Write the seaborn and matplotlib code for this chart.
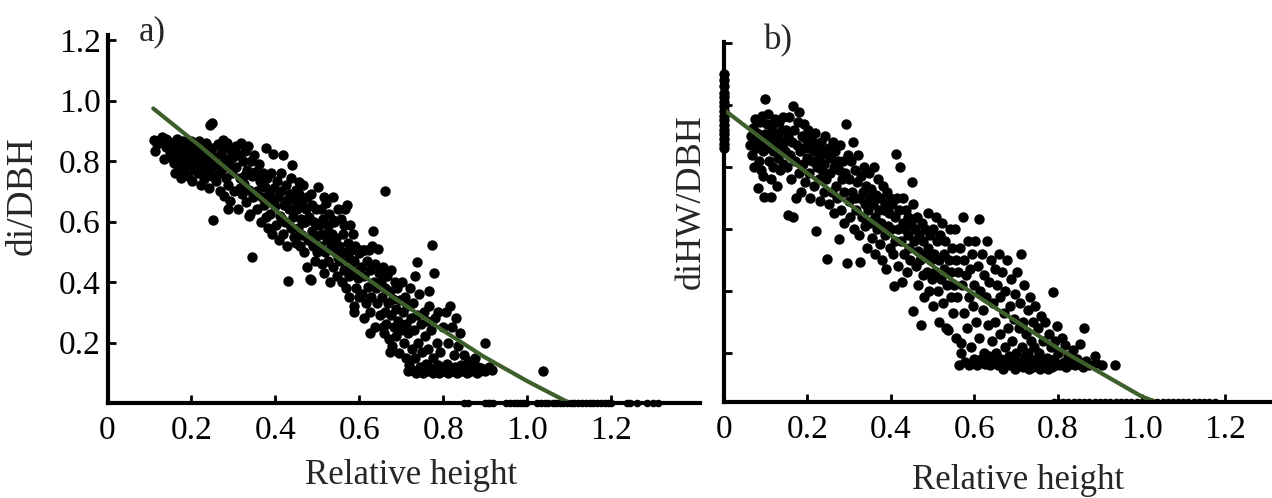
import numpy as np
import pandas as pd
import seaborn as sns
import matplotlib.pyplot as plt

# ---- panel a) di/DBH vs relative height ----
a_x = [0.110, 0.112, 0.118, 0.125, 0.130, 0.135, 0.140, 0.145, 0.148, 0.150, 0.152, 0.140,
       0.155, 0.158, 0.160, 0.162, 0.165, 0.168, 0.170, 0.172, 0.175, 0.178, 0.180, 0.182, 0.185, 0.188, 0.190, 0.192, 0.195, 0.197, 0.199, 0.200,
       0.202, 0.205, 0.207, 0.210, 0.212, 0.215, 0.218, 0.220, 0.222, 0.225, 0.227, 0.230, 0.232, 0.235, 0.237, 0.240, 0.242, 0.244, 0.248, 0.246, 0.249, 0.250,
       0.252, 0.255, 0.258, 0.260, 0.262, 0.265, 0.268, 0.270, 0.272, 0.275, 0.278, 0.280, 0.282, 0.285, 0.287, 0.290, 0.292, 0.295, 0.297, 0.299, 0.288, 0.276,
       0.302, 0.305, 0.307, 0.310, 0.312, 0.315, 0.318, 0.320, 0.322, 0.325, 0.327, 0.330, 0.332, 0.335, 0.337, 0.340, 0.342, 0.344, 0.345, 0.347, 0.349, 0.338, 0.328, 0.316,
       0.352, 0.355, 0.357, 0.360, 0.362, 0.365, 0.367, 0.370, 0.372, 0.375, 0.377, 0.380, 0.382, 0.385, 0.387, 0.390, 0.392, 0.395, 0.397, 0.399, 0.378, 0.368, 0.388, 0.358,
       0.402, 0.404, 0.406, 0.408, 0.410, 0.412, 0.414, 0.417, 0.419, 0.421, 0.423, 0.425, 0.427, 0.430, 0.432, 0.434, 0.436, 0.438, 0.440, 0.442, 0.444, 0.446, 0.448, 0.449, 0.428, 0.415,
       0.452, 0.454, 0.456, 0.458, 0.460, 0.462, 0.464, 0.466, 0.468, 0.470, 0.472, 0.474, 0.476, 0.478, 0.480, 0.482, 0.484, 0.486, 0.488, 0.490, 0.492, 0.494, 0.496, 0.498, 0.499, 0.485, 0.465, 0.457,
       0.502, 0.504, 0.506, 0.508, 0.510, 0.512, 0.514, 0.516, 0.518, 0.520, 0.522, 0.524, 0.526, 0.528, 0.530, 0.532, 0.534, 0.536, 0.538, 0.540, 0.542, 0.544, 0.546, 0.548, 0.549, 0.527, 0.515, 0.537,
       0.552, 0.554, 0.556, 0.558, 0.560, 0.562, 0.564, 0.566, 0.568, 0.570, 0.572, 0.574, 0.576, 0.578, 0.580, 0.582, 0.584, 0.586, 0.588, 0.590, 0.592, 0.594, 0.596, 0.598, 0.599, 0.575, 0.563, 0.587,
       0.602, 0.604, 0.606, 0.608, 0.610, 0.612, 0.614, 0.616, 0.618, 0.620, 0.622, 0.624, 0.626, 0.628, 0.630, 0.632, 0.634, 0.636, 0.638, 0.640, 0.642, 0.644, 0.646, 0.648, 0.661, 0.625,
       0.652, 0.654, 0.656, 0.658, 0.660, 0.662, 0.664, 0.666, 0.668, 0.670, 0.672, 0.674, 0.676, 0.678, 0.680, 0.682, 0.684, 0.686, 0.688, 0.690, 0.692, 0.694, 0.696, 0.698, 0.672, 0.655,
       0.702, 0.704, 0.706, 0.708, 0.710, 0.712, 0.714, 0.716, 0.718, 0.720, 0.722, 0.724, 0.726, 0.728, 0.730, 0.732, 0.734, 0.736, 0.738, 0.740, 0.742, 0.744, 0.746, 0.748, 0.733, 0.715,
       0.752, 0.754, 0.756, 0.758, 0.760, 0.762, 0.764, 0.766, 0.768, 0.770, 0.772, 0.774, 0.776, 0.778, 0.780, 0.782, 0.784, 0.786, 0.788, 0.790, 0.792, 0.795, 0.798, 0.765,
       0.802, 0.805, 0.808, 0.810, 0.812, 0.815, 0.818, 0.820, 0.822, 0.825, 0.828, 0.830, 0.832, 0.835, 0.838, 0.840, 0.843, 0.845, 0.848, 0.850,
       0.853, 0.856, 0.860, 0.863, 0.866, 0.870, 0.873, 0.876, 0.880, 0.883, 0.887, 0.890, 0.899, 0.900, 0.908, 0.915, 1.038]
a_y = [0.870, 0.835, 0.855, 0.862, 0.880, 0.806, 0.848, 0.868, 0.830, 0.815, 0.857, 0.873,
       0.842, 0.795, 0.760, 0.825, 0.872, 0.850, 0.780, 0.810, 0.745, 0.838, 0.866, 0.770, 0.800, 0.855, 0.823, 0.752, 0.790, 0.845, 0.868, 0.815,
       0.735, 0.775, 0.850, 0.800, 0.830, 0.760, 0.866, 0.785, 0.720, 0.815, 0.845, 0.742, 0.770, 0.860, 0.800, 0.830, 0.710, 0.918, 0.925, 0.780, 0.752, 0.842,
       0.605, 0.815, 0.735, 0.790, 0.855, 0.760, 0.700, 0.828, 0.775, 0.845, 0.685, 0.808, 0.745, 0.860, 0.720, 0.790, 0.668, 0.835, 0.760, 0.815, 0.640, 0.870,
       0.700, 0.850, 0.780, 0.640, 0.820, 0.745, 0.860, 0.690, 0.800, 0.725, 0.835, 0.665, 0.770, 0.850, 0.705, 0.625, 0.800, 0.484, 0.750, 0.680, 0.820, 0.620, 0.755, 0.710,
       0.765, 0.700, 0.640, 0.790, 0.735, 0.600, 0.680, 0.760, 0.655, 0.715, 0.842, 0.745, 0.580, 0.690, 0.625, 0.760, 0.560, 0.825, 0.710, 0.650, 0.615, 0.722, 0.670, 0.752,
       0.590, 0.735, 0.680, 0.540, 0.620, 0.700, 0.760, 0.820, 0.560, 0.655, 0.598, 0.720, 0.520, 0.403, 0.640, 0.690, 0.580, 0.745, 0.787, 0.615, 0.550, 0.668, 0.705, 0.530, 0.672, 0.610,
       0.640, 0.580, 0.690, 0.520, 0.610, 0.660, 0.555, 0.720, 0.500, 0.598, 0.640, 0.450, 0.680, 0.540, 0.615, 0.409, 0.407, 0.570, 0.655, 0.520, 0.600, 0.470, 0.640, 0.552, 0.500, 0.690, 0.600, 0.730,
       0.713, 0.590, 0.520, 0.640, 0.460, 0.560, 0.610, 0.430, 0.500, 0.660, 0.540, 0.585, 0.470, 0.625, 0.400, 0.520, 0.560, 0.680, 0.450, 0.600, 0.500, 0.545, 0.420, 0.640, 0.480, 0.560, 0.680, 0.605,
       0.520, 0.470, 0.610, 0.400, 0.560, 0.500, 0.440, 0.640, 0.380, 0.655, 0.530, 0.480, 0.350, 0.590, 0.505, 0.440, 0.560, 0.320, 0.470, 0.520, 0.380, 0.505, 0.415, 0.495, 0.350, 0.420, 0.590, 0.300,
       0.505, 0.450, 0.360, 0.505, 0.280, 0.420, 0.505, 0.330, 0.470, 0.385, 0.505, 0.300, 0.440, 0.350, 0.520, 0.570, 0.400, 0.460, 0.250, 0.380, 0.330, 0.510, 0.430, 0.290, 0.702, 0.230,
       0.400, 0.350, 0.450, 0.230, 0.300, 0.380, 0.260, 0.420, 0.330, 0.210, 0.370, 0.290, 0.440, 0.190, 0.345, 0.250, 0.400, 0.310, 0.220, 0.380, 0.270, 0.165, 0.340, 0.240, 0.170, 0.250,
       0.400, 0.300, 0.200, 0.350, 0.260, 0.150, 0.320, 0.230, 0.125, 0.380, 0.280, 0.180, 0.110, 0.330, 0.240, 0.150, 0.100, 0.467, 0.290, 0.200, 0.360, 0.120, 0.260, 0.170, 0.420, 0.105,
       0.100, 0.300, 0.220, 0.130, 0.270, 0.105, 0.180, 0.320, 0.115, 0.240, 0.522, 0.100, 0.150, 0.429, 0.280, 0.110, 0.200, 0.125, 0.300, 0.100, 0.170, 0.115, 0.250, 0.370,
       0.105, 0.300, 0.130, 0.200, 0.100, 0.320, 0.115, 0.250, 0.105, 0.160, 0.120, 0.280, 0.100, 0.190, 0.110, 0.230, 0.125, 0.105, 0.160, 0.110,
       0.125, 0.100, 0.140, 0.115, 0.105, 0.130, 0.110, 0.150, 0.100, 0.120, 0.105, 0.115, 0.197, 0.105, 0.120, 0.110, 0.107]
# points lying on the x axis (di/DBH = 0)
a_axis_x = [0.848, 0.858, 0.899, 0.905, 0.912, 0.918, 0.950, 0.958, 0.967, 0.975, 0.983, 0.990, 0.997,
            1.023, 1.032, 1.041, 1.050, 1.060, 1.068, 1.077, 1.085, 1.094, 1.103, 1.112, 1.120, 1.130,
            1.140, 1.148, 1.157, 1.166, 1.175, 1.184, 1.192, 1.199, 1.236, 1.245, 1.262, 1.285, 1.298, 1.310]
a_floor = 0.0
# fitted taper curve
a_fit_x = [0.109, 0.22, 0.458, 0.68, 0.79, 0.894, 1.0, 1.10]
a_fit_y = [0.974, 0.85, 0.57, 0.35, 0.248, 0.155, 0.072, 0.0]

# ---- panel b) diHW/DBH vs relative height ----
b_x = [0.062, 0.065, 0.068, 0.070, 0.072, 0.074, 0.076, 0.078, 0.080, 0.082, 0.084, 0.086, 0.088, 0.090, 0.092, 0.094, 0.096, 0.098, 0.099, 0.095,
       0.102, 0.104, 0.106, 0.108, 0.110, 0.112, 0.113, 0.115, 0.117, 0.119, 0.121, 0.123, 0.125, 0.127, 0.129, 0.131, 0.133, 0.135, 0.137, 0.139, 0.141, 0.143, 0.145, 0.147, 0.149,
       0.151, 0.153, 0.155, 0.157, 0.159, 0.161, 0.163, 0.165, 0.167, 0.169, 0.171, 0.173, 0.175, 0.177, 0.179, 0.181, 0.183, 0.185, 0.187, 0.189, 0.191, 0.193, 0.195, 0.197, 0.199,
       0.201, 0.203, 0.205, 0.207, 0.209, 0.211, 0.213, 0.215, 0.217, 0.219, 0.221, 0.223, 0.225, 0.227, 0.229, 0.231, 0.233, 0.235, 0.237, 0.239, 0.241, 0.243, 0.245, 0.247, 0.249,
       0.251, 0.253, 0.255, 0.257, 0.259, 0.261, 0.263, 0.265, 0.267, 0.269, 0.271, 0.273, 0.275, 0.277, 0.279, 0.281, 0.283, 0.285, 0.287, 0.289, 0.291, 0.293, 0.295, 0.297, 0.299,
       0.301, 0.303, 0.305, 0.307, 0.309, 0.311, 0.313, 0.315, 0.317, 0.319, 0.321, 0.323, 0.325, 0.327, 0.329, 0.331, 0.333, 0.335, 0.337, 0.339, 0.341, 0.343, 0.345, 0.347, 0.349,
       0.351, 0.353, 0.355, 0.357, 0.359, 0.361, 0.363, 0.365, 0.367, 0.369, 0.371, 0.373, 0.375, 0.377, 0.379, 0.381, 0.383, 0.385, 0.387, 0.389, 0.391, 0.393, 0.395, 0.397, 0.399,
       0.401, 0.403, 0.405, 0.407, 0.409, 0.411, 0.412, 0.414, 0.416, 0.418, 0.420, 0.422, 0.424, 0.426, 0.428, 0.430, 0.432, 0.434, 0.436, 0.438, 0.440, 0.442, 0.444, 0.446, 0.448,
       0.450, 0.452, 0.454, 0.456, 0.458, 0.460, 0.462, 0.464, 0.466, 0.468, 0.470, 0.472, 0.474, 0.476, 0.478, 0.480, 0.482, 0.484, 0.486, 0.488, 0.490, 0.492, 0.494, 0.496, 0.498,
       0.500, 0.502, 0.504, 0.506, 0.508, 0.510, 0.512, 0.514, 0.516, 0.518, 0.520, 0.522, 0.524, 0.526, 0.528, 0.530, 0.532, 0.534, 0.537, 0.539, 0.541, 0.543, 0.545, 0.547, 0.549,
       0.551, 0.553, 0.555, 0.557, 0.559, 0.561, 0.563, 0.565, 0.567, 0.568, 0.570, 0.572, 0.574, 0.576, 0.578, 0.580, 0.582, 0.584, 0.586, 0.588, 0.590, 0.592, 0.594, 0.596, 0.598,
       0.600, 0.602, 0.604, 0.606, 0.608, 0.610, 0.612, 0.614, 0.616, 0.618, 0.620, 0.622, 0.624, 0.626, 0.628, 0.630, 0.632, 0.634, 0.636, 0.638, 0.640, 0.642, 0.644, 0.646, 0.648,
       0.650, 0.652, 0.654, 0.656, 0.658, 0.660, 0.662, 0.664, 0.666, 0.668, 0.670, 0.672, 0.674, 0.676, 0.678, 0.680, 0.682, 0.684, 0.686, 0.688, 0.690, 0.692, 0.694, 0.696, 0.698,
       0.700, 0.702, 0.704, 0.706, 0.708, 0.710, 0.711, 0.713, 0.715, 0.717, 0.719, 0.721, 0.723, 0.725, 0.727, 0.729, 0.731, 0.733, 0.735, 0.737, 0.739, 0.741, 0.743, 0.745, 0.747,
       0.750, 0.752, 0.755, 0.758, 0.760, 0.763, 0.765, 0.768, 0.770, 0.773, 0.775, 0.778, 0.780, 0.783, 0.785, 0.788, 0.790, 0.793, 0.795, 0.798,
       0.800, 0.805, 0.810, 0.815, 0.817, 0.820, 0.825, 0.830, 0.835, 0.840, 0.845, 0.852, 0.859, 0.862, 0.868, 0.875, 0.888, 0.892, 0.905, 0.936]
b_y = [0.870, 0.900, 0.840, 0.925, 0.800, 0.880, 0.955, 0.860, 0.910, 0.731, 0.820, 0.945, 0.880, 0.790, 0.965, 0.850, 0.704, 0.905, 1.018, 0.770,
       0.860, 0.940, 0.971, 0.820, 0.895, 0.760, 0.704, 0.930, 0.850, 0.800, 0.910, 0.955, 0.870, 0.740, 0.830, 0.900, 0.945, 0.790, 0.860, 0.920, 0.810, 0.960, 0.880, 0.850, 0.920,
       0.800, 0.900, 0.645, 0.960, 0.840, 0.760, 0.880, 0.640, 0.997, 0.920, 0.820, 0.700, 0.870, 0.945, 0.780, 0.978, 0.850, 0.720, 0.900, 0.810, 0.940, 0.860, 0.750, 0.890, 0.830,
       0.920, 0.780, 0.860, 0.700, 0.900, 0.820, 0.880, 0.740, 0.850, 0.910, 0.594, 0.800, 0.870, 0.760, 0.830, 0.690, 0.880, 0.790, 0.850, 0.720, 0.810, 0.900, 0.760, 0.502, 0.840,
       0.680, 0.860, 0.780, 0.830, 0.720, 0.880, 0.650, 0.800, 0.850, 0.740, 0.700, 0.820, 0.567, 0.790, 0.870, 0.660, 0.760, 0.820, 0.620, 0.720, 0.780, 0.939, 0.489, 0.840, 0.690,
       0.760, 0.640, 0.820, 0.720, 0.880, 0.600, 0.700, 0.790, 0.660, 0.750, 0.840, 0.580, 0.700, 0.495, 0.770, 0.640, 0.720, 0.800, 0.610, 0.680, 0.740, 0.540, 0.660, 0.780, 0.700,
       0.620, 0.730, 0.570, 0.680, 0.800, 0.640, 0.520, 0.710, 0.600, 0.760, 0.660, 0.550, 0.700, 0.620, 0.500, 0.740, 0.660, 0.580, 0.680, 0.470, 0.720, 0.610, 0.650, 0.540, 0.700,
       0.600, 0.680, 0.520, 0.416, 0.640, 0.560, 0.842, 0.700, 0.600, 0.480, 0.660, 0.800, 0.560, 0.430, 0.620, 0.700, 0.520, 0.600, 0.660, 0.460, 0.580, 0.640, 0.540, 0.500, 0.620,
       0.753, 0.336, 0.681, 0.560, 0.600, 0.480, 0.640, 0.530, 0.420, 0.580, 0.500, 0.290, 0.620, 0.450, 0.560, 0.380, 0.600, 0.520, 0.460, 0.650, 0.540, 0.400, 0.580, 0.500, 0.440,
       0.600, 0.350, 0.520, 0.460, 0.640, 0.560, 0.400, 0.500, 0.300, 0.580, 0.440, 0.620, 0.360, 0.520, 0.470, 0.560, 0.280, 0.420, 0.274, 0.500, 0.600, 0.380, 0.460, 0.540, 0.330,
       0.420, 0.600, 0.500, 0.250, 0.380, 0.460, 0.161, 0.540, 0.200, 0.231, 0.420, 0.640, 0.330, 0.500, 0.170, 0.450, 0.280, 0.560, 0.380, 0.160, 0.470, 0.220, 0.520, 0.350, 0.180,
       0.420, 0.560, 0.300, 0.160, 0.480, 0.632, 0.250, 0.400, 0.180, 0.520, 0.340, 0.200, 0.450, 0.165, 0.380, 0.560, 0.290, 0.190, 0.430, 0.160, 0.500, 0.240, 0.360, 0.170, 0.470,
       0.300, 0.200, 0.420, 0.160, 0.520, 0.260, 0.380, 0.180, 0.460, 0.150, 0.330, 0.220, 0.400, 0.165, 0.500, 0.280, 0.190, 0.350, 0.160, 0.440, 0.240, 0.175, 0.310, 0.150, 0.390,
       0.200, 0.460, 0.160, 0.280, 0.360, 0.170, 0.518, 0.220, 0.300, 0.155, 0.420, 0.190, 0.260, 0.165, 0.340, 0.200, 0.150, 0.380, 0.240, 0.170, 0.300, 0.155, 0.220, 0.350, 0.180,
       0.160, 0.280, 0.200, 0.150, 0.320, 0.170, 0.240, 0.160, 0.300, 0.185, 0.150, 0.260, 0.170, 0.220, 0.155, 0.398, 0.180, 0.240, 0.160, 0.288,
       0.200, 0.160, 0.250, 0.170, 0.226, 0.155, 0.190, 0.165, 0.210, 0.160, 0.180, 0.229, 0.156, 0.280, 0.175, 0.160, 0.191, 0.167, 0.160, 0.161]
# points at relative height 0 (stump) and on the x axis
b_stump_y = [0.860, 0.875, 0.890, 0.905, 0.920, 0.935, 0.950, 0.965, 0.980, 0.995, 1.010, 1.025, 1.040, 1.060, 1.080, 1.100]
b_axis_x = [0.790, 0.800, 0.812, 0.825, 0.838, 0.850, 0.862, 0.875, 0.888, 0.900, 0.912, 0.925, 0.938, 0.950, 0.962, 0.975,
            0.988, 1.000, 1.012, 1.025, 1.038, 1.050, 1.062, 1.075, 1.088, 1.100, 1.112, 1.125, 1.138, 1.150, 1.162, 1.175]
b_floor = 0.042
b_fit_x = [0.0, 0.2, 0.4, 0.541, 0.645, 0.8, 1.0, 1.035]
b_fit_y = [0.985, 0.78, 0.58, 0.441, 0.35, 0.215, 0.06, 0.042]

ticks = [0, 0.2, 0.4, 0.6, 0.8, 1.0, 1.2]
tick_text = ["0", "0.2", "0.4", "0.6", "0.8", "1.0", "1.2"]

assert len(a_x) == len(a_y) and len(b_x) == len(b_y)

# ---- style ----
sns.set_style("ticks")
plt.rcParams['font.family'] = ['Liberation Serif', 'DejaVu Serif']
green = "#3e5f2b"
fs = 25
dot = 56

fig = plt.figure(figsize=(12.72, 4.98), dpi=100)
ax1 = fig.add_axes([107.5 / 1272, 95 / 498, 592.5 / 1272, 368 / 498])
ax2 = fig.add_axes([723.7 / 1272, 96 / 498, 548.3 / 1272, 360 / 498])


def style_axes(ax, ylim, xlim, show_ylabels):
    ax.set_xlim(xlim)
    ax.set_ylim(ylim)
    sns.despine(ax=ax)
    for side in ["left", "bottom"]:
        ax.spines[side].set_linewidth(3)
        ax.spines[side].set_color("black")
    ax.set_xticks(ticks)
    ax.set_xticklabels(tick_text)
    ax.set_yticks(ticks[1:])
    if show_ylabels:
        ax.set_yticklabels(tick_text[1:])
    else:
        ax.set_yticklabels([])
    ax.tick_params(direction="in", length=6, width=2, colors="black", labelsize=24)
    ax.tick_params(axis="x", pad=9)
    ax.tick_params(axis="y", pad=5)


# panel a
sns.scatterplot(x=a_x, y=a_y, ax=ax1, color="black", s=dot, linewidth=0)
sns.scatterplot(x=a_axis_x, y=[a_floor] * len(a_axis_x), ax=ax1, color="black", s=30, linewidth=0, clip_on=False)
sns.lineplot(x=a_fit_x, y=a_fit_y, ax=ax1, color=green, linewidth=3)
style_axes(ax1, (0, 1.217), (0, 1.411), True)
ax1.set_xlabel("Relative height", fontsize=fs)
ax1.xaxis.set_label_coords(0.512, -0.152)
ax1.set_ylabel("di/DBH", fontsize=27)
ax1.yaxis.set_label_coords(-0.114, 0.5625)
ax1.text(0.075, 1.01, "a)", transform=ax1.transAxes, fontsize=fs, ha="center", va="center")

# panel b
sns.scatterplot(x=b_x, y=b_y, ax=ax2, color="black", s=dot, linewidth=0)
sns.scatterplot(x=[0.0] * len(b_stump_y), y=b_stump_y, ax=ax2, color="black", s=dot, linewidth=0, clip_on=False)
sns.scatterplot(x=b_axis_x, y=[b_floor] * len(b_axis_x), ax=ax2, color="black", s=30, linewidth=0)
sns.lineplot(x=b_fit_x, y=b_fit_y, ax=ax2, color=green, linewidth=3)
style_axes(ax2, (b_floor, 1.203), (0, 1.312), False)
ax2.set_xlabel("Relative height", fontsize=fs)
ax2.xaxis.set_label_coords(0.537, -0.172)
ax2.set_ylabel("diHW/DBH", fontsize=26)
ax2.yaxis.set_label_coords(-0.029, 0.557)
ax2.text(0.099, 1.003, "b)", transform=ax2.transAxes, fontsize=fs, ha="center", va="center")

fig.savefig("out.png", dpi=100)
